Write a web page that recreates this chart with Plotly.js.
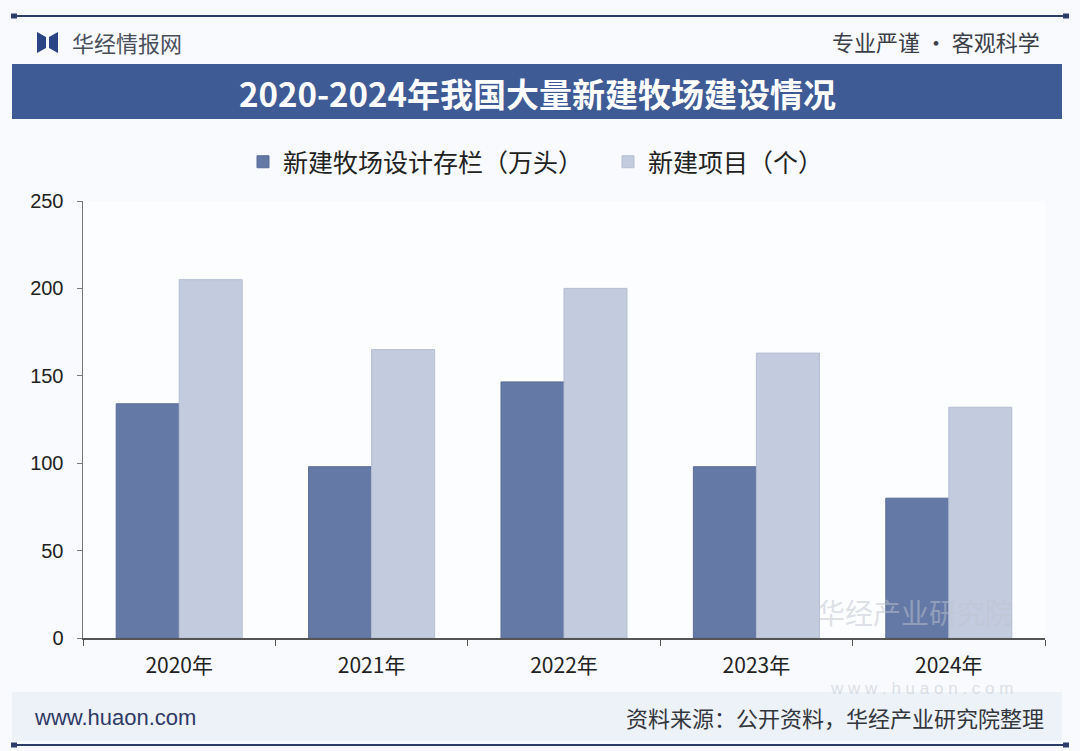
<!DOCTYPE html>
<html>
<head>
<meta charset="utf-8">
<script src="https://cdn.plot.ly/plotly-3.0.1.min.js"></script>
<style>html,body{margin:0;padding:0;background:#f8fafd;}#chart{width:1080px;height:751px;}</style>
</head>
<body>
<div id="chart"></div>
<script>
// ---- data ----
const categories = ["2020年", "2021年", "2022年", "2023年", "2024年"];
const capacityValues = [134, 98, 146.5, 98, 80];   // 新建牧场设计存栏（万头）
const projectValues = [205, 165, 200, 163, 132];    // 新建项目（个）
const seriesNames = ["新建牧场设计存栏（万头）", "新建项目（个）"];
const yTicks = [0, 50, 100, 150, 200, 250];
const titleText = "2020-2024年我国大量新建牧场建设情况";
const sourceText = "资料来源：公开资料，华经产业研究院整理";

// ---- layout helpers (pixel -> paper) ----
const W = 1080, H = 751, L = 83, R = 35, T = 201, B = 113;
const PW = W - L - R, PH = H - T - B;
const px = x => (x - L) / PW;
const py = y => (H - B - y) / PH;
const CJK = '"Noto Sans CJK SC", "Noto Sans", sans-serif';

const traces = [
  {type: "bar", name: seriesNames[0], x: categories, y: capacityValues,
   marker: {color: "#6579a6", line: {color: "#5a6d98", width: 1}}},
  {type: "bar", name: seriesNames[1], x: categories, y: projectValues,
   marker: {color: "#c3cbde", line: {color: "#b5bed3", width: 1}}}
];

const shapes = [
  // top line
  {type: "line", xref: "paper", yref: "paper", x0: px(14), x1: px(1066), y0: py(16), y1: py(16), line: {color: "#2c3d6b", width: 2}},
  {type: "rect", xref: "paper", yref: "paper", x0: px(11), x1: px(17), y0: py(13.5), y1: py(18.5), fillcolor: "#2c3d6b", line: {width: 0}},
  {type: "rect", xref: "paper", yref: "paper", x0: px(1063), x1: px(1069), y0: py(13.5), y1: py(18.5), fillcolor: "#2c3d6b", line: {width: 0}},
  // logo icon
  {type: "path", xref: "paper", yref: "paper", path: `M ${px(37)} ${py(32)} L ${px(46)} ${py(37)} L ${px(46)} ${py(48)} L ${px(37)} ${py(53)} Z`, fillcolor: "#2b4485", line: {width: 0}},
  {type: "path", xref: "paper", yref: "paper", path: `M ${px(58)} ${py(32)} L ${px(49)} ${py(37)} L ${px(49)} ${py(48)} L ${px(58)} ${py(53)} Z`, fillcolor: "#2b4485", line: {width: 0}},
  // title banner
  {type: "rect", xref: "paper", yref: "paper", x0: px(12), x1: px(1062), y0: py(64), y1: py(119), fillcolor: "#3f5b96", line: {width: 0}, layer: "below"},
  // footer band
  {type: "rect", xref: "paper", yref: "paper", x0: px(12), x1: px(1062), y0: py(692), y1: py(741), fillcolor: "#edf1f8", line: {width: 0}, layer: "below"},
  // bottom line
  {type: "line", xref: "paper", yref: "paper", x0: px(14), x1: px(1066), y0: py(745), y1: py(745), line: {color: "#2c3d6b", width: 2}},
  {type: "rect", xref: "paper", yref: "paper", x0: px(11), x1: px(17), y0: py(742.5), y1: py(747.5), fillcolor: "#2c3d6b", line: {width: 0}},
  {type: "rect", xref: "paper", yref: "paper", x0: px(1063), x1: px(1069), y0: py(742.5), y1: py(747.5), fillcolor: "#2c3d6b", line: {width: 0}}
];

const annotations = [
  {text: "华经情报网", xref: "paper", yref: "paper", x: px(70), y: py(42), xanchor: "left", yanchor: "middle", showarrow: false,
   font: {family: CJK, size: 22, color: "#4a4f5c"}},
  {text: "专业严谨 • 客观科学", xref: "paper", yref: "paper", x: px(1042), y: py(41), xanchor: "right", yanchor: "middle", showarrow: false,
   font: {family: CJK, size: 22, color: "#3c404a"}},
  {text: "<b>" + titleText + "</b>", xref: "paper", yref: "paper", x: px(537), y: py(93), xanchor: "center", yanchor: "middle", showarrow: false,
   font: {family: CJK, size: 33, color: "#ffffff"}},
  // watermark
  {text: "华经产业研究院", xref: "paper", yref: "paper", x: px(1015), y: py(612), xanchor: "right", yanchor: "middle", showarrow: false,
   font: {family: CJK, size: 28, color: "rgba(190,196,206,0.5)"}},
  {text: "w w w . h u a o n . c o m", xref: "paper", yref: "paper", x: px(1015), y: py(688), xanchor: "right", yanchor: "middle", showarrow: false,
   font: {family: "Liberation Sans, sans-serif", size: 17, color: "rgba(190,196,206,0.5)"}},
  // footer
  {text: "www.huaon.com", xref: "paper", yref: "paper", x: px(32), y: py(717), xanchor: "left", yanchor: "middle", showarrow: false,
   font: {family: "Liberation Sans, sans-serif", size: 22, color: "#2d3a66"}},
  {text: sourceText, xref: "paper", yref: "paper", x: px(1046), y: py(717), xanchor: "right", yanchor: "middle", showarrow: false,
   font: {family: CJK, size: 22, color: "#33363d"}}
];

const layout = {
  width: W, height: H, autosize: false,
  margin: {l: L, r: R, t: T, b: B, pad: 0},
  paper_bgcolor: "#f8fafd",
  plot_bgcolor: "#fcfdff",
  barmode: "group",
  bargap: 0.345,
  bargroupgap: 0,
  showlegend: true,
  legend: {orientation: "h", x: px(243), y: py(162), xanchor: "left", yanchor: "middle",
           font: {family: CJK, size: 25, color: "#222"}, bgcolor: "rgba(0,0,0,0)",
           entrywidth: 320, entrywidthmode: "pixels", traceorder: "normal"},
  xaxis: {type: "category", showline: true, linecolor: "#555", linewidth: 1.5,
          ticks: "outside", tickson: "boundaries", ticklen: 6, tickcolor: "#555", ticklabelstandoff: 8,
          tickfont: {family: CJK, size: 21, color: "#222"}, showgrid: false, zeroline: false, fixedrange: true},
  yaxis: {range: [0, 250], tickvals: yTicks, ticktext: yTicks.map(String), showline: true, linecolor: "#777", linewidth: 1.5,
          ticks: "outside", ticklen: 5, tickcolor: "#777", ticklabelstandoff: 9,
          tickfont: {family: "Liberation Sans, sans-serif", size: 20, color: "#222"}, showgrid: false, zeroline: false, fixedrange: true},
  shapes: shapes,
  annotations: annotations
};

Plotly.newPlot("chart", traces, layout, {displayModeBar: false, staticPlot: true});
</script>
</body>
</html>
